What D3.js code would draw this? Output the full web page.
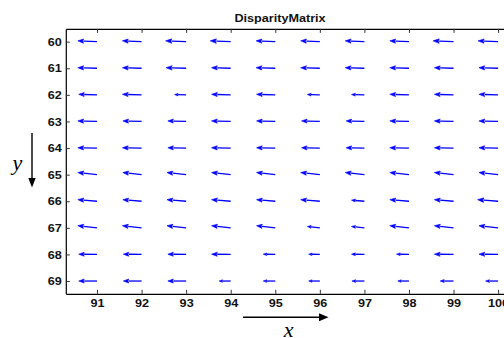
<!DOCTYPE html>
<html>
<head>
<meta charset="utf-8">
<script src="https://cdn.jsdelivr.net/npm/d3@7"></script>
<style>
  body { margin: 0; background: #fff; }
  svg { display: block; }
</style>
</head>
<body>
<svg id="chart"></svg>
<script>
// grid of the disparity field
const xTicks = [91, 92, 93, 94, 95, 96, 97, 98, 99, 100];
const yTicks = [60, 61, 62, 63, 64, 65, 66, 67, 68, 69];

// horizontal component (x units), one row per y tick
const U = [
  [-0.43, -0.43, -0.46, -0.46, -0.43, -0.43, -0.43, -0.43, -0.46, -0.45],
  [-0.43, -0.43, -0.45, -0.43, -0.43, -0.43, -0.43, -0.43, -0.43, -0.43],
  [-0.41, -0.43, -0.26, -0.43, -0.42, -0.28, -0.29, -0.43, -0.43, -0.43],
  [-0.43, -0.42, -0.41, -0.43, -0.42, -0.41, -0.41, -0.43, -0.43, -0.43],
  [-0.43, -0.43, -0.41, -0.43, -0.42, -0.41, -0.41, -0.43, -0.43, -0.43],
  [-0.43, -0.42, -0.43, -0.43, -0.42, -0.43, -0.43, -0.43, -0.43, -0.43],
  [-0.43, -0.42, -0.43, -0.43, -0.42, -0.43, -0.29, -0.43, -0.43, -0.46],
  [-0.43, -0.43, -0.43, -0.43, -0.42, -0.28, -0.29, -0.43, -0.43, -0.43],
  [-0.41, -0.41, -0.41, -0.43, -0.27, -0.25, -0.29, -0.28, -0.43, -0.43],
  [-0.41, -0.41, -0.41, -0.26, -0.27, -0.25, -0.28, -0.25, -0.30, -0.28]
];

// vertical component (y units, y axis points down)
const V = [
  [-0.03, -0.03, -0.03, -0.03, -0.03, -0.03, -0.03, -0.03, -0.03, -0.03],
  [-0.02, -0.02, -0.02, -0.02, -0.02, -0.02, -0.02, -0.02, -0.02, -0.02],
  [-0.02, -0.02, -0.01, -0.02, -0.02, -0.01, -0.01, -0.02, -0.02, -0.02],
  [-0.02, -0.02, -0.02, -0.02, -0.02, -0.02, -0.02, -0.02, -0.02, -0.02],
  [-0.01, -0.01, -0.01, -0.01, -0.01, -0.01, -0.01, -0.01, -0.01, -0.01],
  [-0.08, -0.08, -0.08, -0.08, -0.08, -0.08, -0.08, -0.08, -0.08, -0.08],
  [-0.06, -0.06, -0.06, -0.06, -0.06, -0.06, -0.04, -0.06, -0.06, -0.06],
  [-0.08, -0.08, -0.08, -0.08, -0.08, -0.05, -0.05, -0.08, -0.08, -0.08],
  [-0.01, -0.01, -0.01, -0.01, -0.01, -0.01, -0.01, -0.01, -0.01, -0.01],
  [0, 0, 0, 0, 0, 0, 0, 0, 0, 0]
];

const W = 504, H = 338;
const FONT = '"Liberation Sans", Arial, sans-serif';
const SX = 1.24; // the picture is a bit stretched sideways

const svg = d3.select('#chart')
  .attr('width', W)
  .attr('height', H);

svg.append('rect').attr('width', W).attr('height', H).attr('fill', '#fff');

const x = d3.scaleLinear().domain([90.3, 100.7]).range([65.8, 529.3]);
const y = d3.scaleLinear().domain([59.52, 69.48]).range([28.9, 293.8]);

const plotTop = y.range()[0], plotBottom = y.range()[1];
const plotLeft = x.range()[0];

function styleAxis(g) {
  g.select('.domain').attr('stroke', '#000').attr('stroke-width', 1.2);
  g.selectAll('.tick line').attr('stroke', '#333').attr('stroke-width', 1);
}

// bottom axis, ticks pointing in
const gx = svg.append('g')
  .attr('transform', `translate(0,${plotBottom})`)
  .call(d3.axisBottom(x).tickValues(xTicks).tickSizeInner(-4).tickSizeOuter(0).tickFormat(d3.format('d')))
  .call(styleAxis);
gx.selectAll('.tick text')
  .attr('y', null).attr('dy', null)
  .attr('transform', `translate(0,13.4) scale(${SX},1)`)
  .attr('font-family', FONT).attr('font-size', 10.2).attr('font-weight', 'bold')
  .attr('fill', '#111');

// top axis, no labels
svg.append('g')
  .attr('transform', `translate(0,${plotTop})`)
  .call(d3.axisTop(x).tickValues(xTicks).tickSizeInner(-4).tickSizeOuter(0).tickFormat(''))
  .call(styleAxis);

// left axis
const gy = svg.append('g')
  .attr('transform', `translate(${plotLeft},0)`)
  .call(d3.axisLeft(y).tickValues(yTicks).tickSizeInner(3).tickSizeOuter(0).tickFormat(d3.format('d')))
  .call(styleAxis);
gy.selectAll('.tick line').attr('x2', 4);
gy.selectAll('.tick text')
  .attr('x', null).attr('dy', null)
  .attr('transform', `translate(-4,3.7) scale(${SX},1)`)
  .attr('font-family', FONT).attr('font-size', 10.2).attr('font-weight', 'bold')
  .attr('fill', '#111');

// title
svg.append('text')
  .attr('transform', `translate(280,21.5) scale(${SX},1)`)
  .attr('text-anchor', 'middle')
  .attr('font-family', FONT).attr('font-size', 10.2).attr('font-weight', 'bold')
  .attr('fill', '#111')
  .text('DisparityMatrix');

// quiver arrows
const arrows = [];
yTicks.forEach((yv, r) => {
  xTicks.forEach((xv, c) => {
    arrows.push({ x0: xv, y0: yv, u: U[r][c], v: V[r][c] });
  });
});

const qg = svg.append('g');
arrows.forEach(a => {
  const x0 = x(a.x0), y0 = y(a.y0);
  const x1 = x(a.x0 + a.u), y1 = y(a.y0 + a.v);
  const dx = x1 - x0, dy = y1 - y0;
  const len = Math.hypot(dx, dy);
  const ux = dx / len, uy = dy / len;
  const hl = 0.3 * len, hw = 0.11 * len;
  const bx = x1 - ux * hl, by = y1 - uy * hl;

  qg.append('line')
    .attr('x1', x0).attr('y1', y0).attr('x2', bx).attr('y2', by)
    .attr('stroke', '#0000ff').attr('stroke-width', 1.3);
  qg.append('path')
    .attr('d', `M${x1},${y1}L${bx - uy * hw},${by + ux * hw}L${bx + ux * hl * 0.15},${by + uy * hl * 0.15}L${bx + uy * hw},${by - ux * hw}Z`)
    .attr('fill', '#0000ff')
    .attr('stroke', '#0000ff').attr('stroke-width', 0.6);
});

// direction hints for the axes
const hint = svg.append('g').attr('fill', '#000').attr('stroke', '#000');

hint.append('line').attr('x1', 32).attr('y1', 133).attr('x2', 32).attr('y2', 179)
  .attr('stroke-width', 1.4);
hint.append('path').attr('d', 'M28.3,178L35.7,178L32,187.5Z').attr('stroke', 'none');

hint.append('line').attr('x1', 243).attr('y1', 317.3).attr('x2', 320).attr('y2', 317.3)
  .attr('stroke-width', 1.4);
hint.append('path').attr('d', 'M319,313.3L319,321.3L328.5,317.3Z').attr('stroke', 'none');

svg.append('text')
  .attr('x', 17.5).attr('y', 170)
  .attr('text-anchor', 'middle')
  .attr('font-family', '"Liberation Serif", "Times New Roman", serif')
  .attr('font-style', 'italic').attr('font-size', 22)
  .attr('fill', '#000')
  .text('y');

svg.append('text')
  .attr('x', 288.7).attr('y', 336.5)
  .attr('text-anchor', 'middle')
  .attr('font-family', '"Liberation Serif", "Times New Roman", serif')
  .attr('font-style', 'italic').attr('font-size', 22)
  .attr('fill', '#000')
  .text('x');
</script>
</body>
</html>
